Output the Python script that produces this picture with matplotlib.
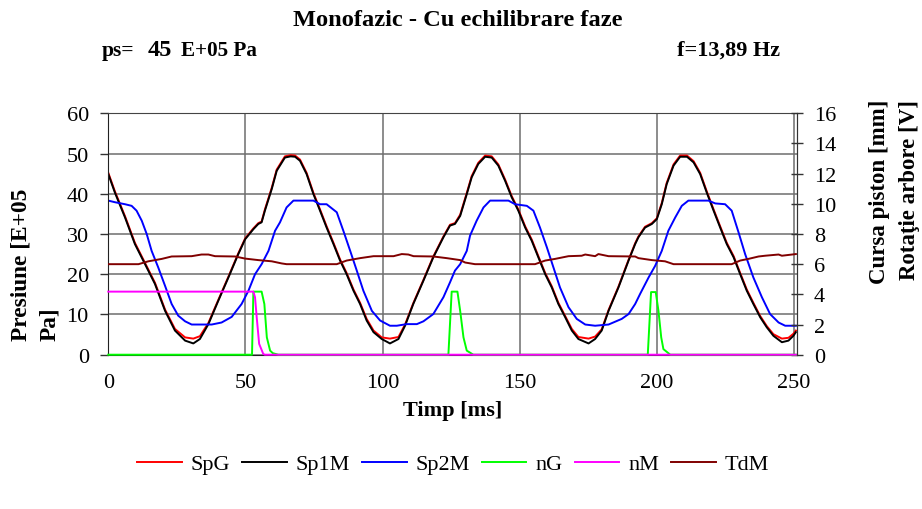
import matplotlib
matplotlib.use("Agg")
import matplotlib.pyplot as plt


# -----------------------------
# Data
# -----------------------------
# Sp1M (black), left axis [E+05 Pa]
sp1m_t = [0, 2.4, 6.1, 9.7, 13.4, 17.0, 20.7, 24.3, 28.0, 31.0, 33.4, 36.5,
          40.1, 43.8, 47.4, 49.9, 52.9, 54.7, 55.9, 57.1, 59.6, 61.4, 64.4,
          66.5, 68.1, 69.9, 72.3, 74.8, 77.2, 79.6, 82.1, 84.5, 86.9, 89.4,
          91.8, 94.2, 96.7, 99.7, 102.7, 105.8, 108.2, 111.2, 114.9, 118.5,
          122.2, 124.6, 126.4, 128.3, 130.7, 132.5, 134.9, 137.4, 139.8,
          142.2, 144.7, 147.1, 149.5, 152.0, 154.4, 156.8, 159.3, 161.7,
          164.1, 166.6, 169.0, 171.4, 175.1, 177.5, 179.9, 182.4, 186.0,
          189.7, 192.1, 193.3, 195.7, 198.2, 200.0, 201.8, 203.6, 206.1,
          208.5, 211.0, 213.4, 215.8, 218.2, 220.7, 223.1, 225.5, 228.0,
          230.4, 232.8, 235.2, 237.7, 240.1, 242.5, 245.6, 248.0, 249.8, 250.7]
sp1m_v = [44.9, 40.3, 34.1, 27.5, 22.5, 17.6, 10.9, 6.0, 3.5, 2.8, 3.9, 7.6,
          13.4, 19.2, 25.0, 28.7, 31.2, 32.5, 32.9, 35.8, 41.2, 45.7, 49.0,
          49.3, 49.2, 48.2, 44.9, 39.9, 35.8, 31.6, 27.5, 23.4, 20.0, 15.9,
          12.6, 8.5, 5.6, 3.9, 2.8, 3.9, 7.2, 12.6, 18.4, 24.2,
          29.2, 32.1, 32.5, 34.5, 39.9, 44.1, 47.4, 49.2, 49.0,
          47.0, 43.2, 39.1, 35.8, 31.6, 28.3, 24.2, 20.0, 16.7,
          12.6, 9.3, 6.0, 3.9, 2.8, 3.9, 6.0, 10.9, 16.7,
          23.4, 27.5, 29.2, 31.6, 32.5, 33.7, 37.4, 42.4, 47.0,
          49.2, 49.2, 47.8, 44.9, 40.3, 35.8, 31.6, 27.5, 24.2,
          20.0, 15.9, 12.6, 9.3, 6.8, 4.7, 3.1, 3.5, 4.7, 5.6]

# SpG (red), left axis - same trace, flatter troughs
spg_t = sp1m_t
spg_v = [45.2, 40.6, 34.4, 27.8, 22.8, 17.9, 11.2, 6.4, 4.3, 4.0, 4.6, 7.9,
         13.6, 19.4, 25.2, 28.9, 31.4, 32.7, 33.1, 36.1, 41.5, 46.0, 49.3,
         49.6, 49.5, 48.5, 45.2, 40.2, 36.1, 31.9, 27.8, 23.7, 20.3, 16.2,
         12.9, 8.9, 6.0, 4.3, 4.0, 4.4, 7.5, 12.8, 18.6, 24.4,
         29.4, 32.3, 32.7, 34.8, 40.2, 44.4, 47.7, 49.5, 49.3,
         47.3, 43.5, 39.4, 36.1, 31.9, 28.6, 24.5, 20.3, 17.0,
         12.9, 9.6, 6.4, 4.4, 4.0, 4.5, 6.3, 11.1, 16.9,
         23.6, 27.7, 29.4, 31.8, 32.7, 33.9, 37.7, 42.7, 47.3,
         49.5, 49.5, 48.1, 45.2, 40.6, 36.1, 31.9, 27.8, 24.5,
         20.3, 16.2, 12.9, 9.6, 7.1, 5.1, 4.0, 4.2, 5.2, 6.0]

# Sp2M (blue), left axis
sp2m_t = [0, 2.4, 6.1, 8.5, 10.3, 12.2, 14.0, 15.8, 18.2, 20.7, 23.1, 25.5,
          28.0, 30.4, 37.7, 41.3, 45.0, 48.6, 51.1, 53.5, 55.9, 58.4, 60.8,
          62.6, 65.0, 67.5, 74.8, 77.2, 79.6, 83.3, 85.7, 88.2, 90.6, 93.0,
          96.1, 99.1, 102.7, 105.2, 108.8, 112.5, 114.9, 118.5, 122.2, 124.6,
          126.4, 128.3, 130.7, 131.9, 134.3, 136.8, 139.2, 145.9, 148.3,
          152.6, 155.0, 157.4, 159.9, 162.3, 164.7, 167.8, 170.8, 173.9,
          177.5, 182.4, 187.2, 189.7, 192.1, 193.9, 197.0, 199.4, 201.8,
          204.2, 206.7, 209.1, 211.5, 218.8, 221.3, 224.9, 227.3, 229.8,
          232.2, 235.2, 238.3, 241.3, 244.4, 246.8, 250.7]
sp2m_v = [38.3, 37.9, 37.4, 37.0, 35.8, 33.3, 30.0, 25.8, 21.7, 17.1, 12.6, 9.7,
          8.3, 7.5, 7.5, 8.0, 9.4, 12.6, 15.9, 20.0, 22.5, 25.8, 30.8,
          32.9, 36.6, 38.3, 38.3, 37.4, 37.4, 35.4, 30.8, 25.8, 20.9, 15.9,
          10.9, 8.5, 7.2, 7.2, 7.6, 7.6, 8.3, 10.1, 14.3, 18.0,
          20.9, 22.5, 25.8, 29.6, 33.3, 36.6, 38.3, 38.3, 37.4,
          37.0, 35.8, 31.6, 26.7, 21.7, 16.7, 11.8, 8.9, 7.5,
          7.2, 7.5, 8.9, 10.1, 12.6, 15.1, 19.2, 22.1, 25.8,
          30.8, 34.1, 37.0, 38.3, 38.3, 37.6, 37.4, 35.8, 30.4,
          25.0, 19.2, 14.3, 10.1, 8.0, 7.2, 7.2]

# nG (green), right axis [V]
ng_t = [0, 52.4, 52.9, 55.9, 56.9, 57.8, 59.0, 60.0, 62.0,
        124.0, 125.2, 127.3, 128.3, 129.5, 130.7, 133.1,
        196.7, 197.9, 199.6, 200.6, 201.6, 202.4, 204.9, 250.7]
ng_v = [0, 0, 4.18, 4.18, 3.36, 1.15, 0.27, 0.1, 0,
        0, 4.18, 4.18, 2.9, 1.15, 0.27, 0,
        0, 4.15, 4.15, 2.9, 1.15, 0.37, 0, 0]

# nM (magenta), right axis [V]
nm_t = [0, 52.9, 53.5, 54.1, 55.0, 56.5, 57.1, 250.7]
nm_v = [4.18, 4.18, 3.8, 2.5, 0.72, 0.05, 0, 0]

# TdM (dark red), right axis [mm]
tdm_t = [0, 11.0, 14.6, 19.5, 23.1, 30.4, 34.0, 36.5, 38.9, 46.2, 49.9, 54.7,
         59.6, 63.2, 65.0, 83.3, 86.9, 91.8, 96.7, 104.0, 107.0, 109.4, 111.3,
         118.5, 123.4, 128.3, 130.1, 133.7, 155.6, 159.3, 162.9, 167.8, 172.6,
         173.9, 177.5, 178.7, 182.4, 192.1, 193.3, 198.2, 203.0, 206.1, 227.3,
         230.4, 233.4, 237.1, 239.5, 244.4, 245.6, 250.7]
tdm_v = [6.00, 6.00, 6.19, 6.35, 6.51, 6.53, 6.64, 6.64, 6.53, 6.51, 6.37, 6.27,
         6.19, 6.05, 6.00, 6.00, 6.24, 6.40, 6.53, 6.53, 6.67, 6.64, 6.53,
         6.51, 6.40, 6.27, 6.11, 6.00, 6.00, 6.24, 6.35, 6.53, 6.56,
         6.64, 6.53, 6.67, 6.53, 6.51, 6.40, 6.27, 6.19, 6.00, 6.00,
         6.24, 6.35, 6.51, 6.56, 6.64, 6.56, 6.67]

x_ticks = [0, 50, 100, 150, 200, 250]
y_left_ticks = [0, 10, 20, 30, 40, 50, 60]
y_right_ticks = [0, 2, 4, 6, 8, 10, 12, 14, 16]

FONT = "Liberation Serif"
GRID = "#6e6e6e"


# -----------------------------
# Figure
# -----------------------------
plt.rcParams["font.family"] = [FONT, "DejaVu Serif"]

fig = plt.figure(figsize=(9.22, 5.10), dpi=100)
ax = fig.add_axes([108.3 / 922, 1 - 355.7 / 510,
                   (796.7 - 108.3) / 922, (355.7 - 114.3) / 510])
ax2 = ax.twinx()

ax.plot(spg_t, spg_v, color="#ff0000", lw=1.4, label="SpG")
ax.plot(sp1m_t, sp1m_v, color="black", lw=1.4, label="Sp1M")
ax.plot(sp2m_t, sp2m_v, color="#0000ff", lw=1.4, label="Sp2M")
ax2.plot(ng_t, ng_v, color="#00ff00", lw=1.4, label="nG", clip_on=False)
ax2.plot(nm_t, nm_v, color="#ff00ff", lw=1.4, label="nM", clip_on=False)
ax2.plot(tdm_t, tdm_v, color="#800000", lw=1.4, label="TdM")

ax.set_xlim(0, 251)
ax.set_ylim(0, 60)
ax2.set_ylim(0, 16)

ax.set_xticks(x_ticks)
ax.set_yticks(y_left_ticks)
ax2.set_yticks(y_right_ticks)

ax.set_axisbelow(True)
ax.grid(True, color=GRID, lw=1.1)

ax.tick_params(axis="x", length=0, pad=13, labelsize=16)
ax.tick_params(axis="y", direction="out", length=6, width=1, pad=8,
               labelsize=16, color="#333333")
ax2.tick_params(axis="y", direction="inout", length=9, width=1, pad=8,
                labelsize=16, color="#333333")

for spine in ["left", "bottom"]:
    ax.spines[spine].set_color("#222222")
ax.spines["top"].set_color("#444444")
ax.spines["right"].set_color("#444444")
for spine in ["top", "left", "bottom"]:
    ax2.spines[spine].set_visible(False)
ax2.spines["right"].set_color("#333333")

# -----------------------------
# Texts
# -----------------------------
fig.text(458 / 922, 1 - 20 / 510, "Monofazic - Cu echilibrare faze",
         ha="center", va="center", fontsize=17.6, fontweight="bold")
fig.text(102 / 922, 1 - 51 / 510, "ps=", ha="left", va="center",
         fontsize=15.5, fontweight="bold")
fig.text(148 / 922, 1 - 50 / 510, "45", ha="left", va="center",
         fontsize=17.5, fontweight="bold")
fig.text(181 / 922, 1 - 51 / 510, "E+05 Pa", ha="left", va="center",
         fontsize=15.2, fontweight="bold")
fig.text(780 / 922, 1 - 51 / 510, "f=13,89 Hz", ha="right", va="center",
         fontsize=16, fontweight="bold")

fig.text(35 / 922, 1 - 341 / 510, "Presiune [E+05\nPa]", rotation=90,
         ha="center", va="bottom", multialignment="left",
         fontsize=16.8, fontweight="bold", linespacing=1.45)
fig.text(879 / 922, 1 - 100 / 510, "Cursa piston [mm]", rotation=90,
         ha="center", va="top", fontsize=16.5, fontweight="bold")
fig.text(909 / 922, 1 - 100 / 510, "Rotaţie arbore [V]", rotation=90,
         ha="center", va="top", fontsize=16.5, fontweight="bold")

fig.text(453 / 922, 1 - 411 / 510, "Timp [ms]", ha="center", va="center",
         fontsize=16, fontweight="bold")

# -----------------------------
# Legend
# -----------------------------
h1, l1 = ax.get_legend_handles_labels()
h2, l2 = ax2.get_legend_handles_labels()
fig.legend(h1 + h2, l1 + l2, loc="center", ncol=6,
           bbox_to_anchor=(453 / 922, 1 - 465 / 510), frameon=False,
           fontsize=16, handlelength=2.0, handletextpad=0.4,
           columnspacing=0.55, borderpad=0)

fig.savefig("out.png", dpi=100)
